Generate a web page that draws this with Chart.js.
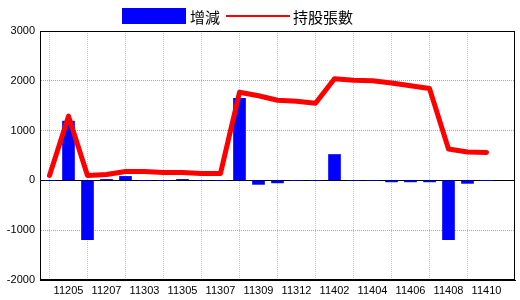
<!DOCTYPE html>
<html>
<head>
<meta charset="utf-8">
<script src="https://cdn.jsdelivr.net/npm/chart.js@4/dist/chart.umd.min.js"></script>
<style>
  html, body { margin: 0; padding: 0; background: #fff; }
  #wrap { width: 520px; height: 300px; }
</style>
</head>
<body>
<div id="wrap"><canvas id="c" width="520" height="300"></canvas></div>
<script>
// Tick labels shown on the x axis (every other category)
const tickLabels = ['11205','11207','11303','11305','11307','11309','11312','11402','11404','11406','11408','11410'];
// Category slots: labelled slots alternate with unlabelled ones; one trailing empty slot
const categories = [];
for (let i = 0; i < 24; i++) categories.push(i % 2 === 1 ? tickLabels[(i - 1) / 2] : '');
categories.push('');

// 增減 (bars)
const changes = [0, 1190, -1190, 20, 80, 0, 0, 20, 0, 0, 1650, -80, -50, 0, 0, 520, 0, 0, -30, -30, -30, -1190, -60, 0];
// 持股張數 (line)
const holdings = [100, 1290, 100, 120, 180, 180, 160, 160, 140, 140, 1770, 1700, 1610, 1590, 1550, 2040, 2010, 2000, 1955, 1900, 1845, 630, 570, 560];

const seriesNames = ['增減', '持股張數'];
const yTicks = { min: -2000, max: 3000, step: 1000 };

const tickFont = { family: 'Liberation Sans', size: 11 };

const framePlugin = {
  id: 'frame',
  beforeDatasetsDraw(chart) {
    const a = chart.chartArea, ctx = chart.ctx;
    ctx.save();
    ctx.strokeStyle = '#000';
    ctx.lineWidth = 1;
    ctx.strokeRect(Math.round(a.left) + 0.5, Math.round(a.top) + 0.5, Math.round(a.right - a.left) - 1, Math.round(a.bottom - a.top) - 1);
    ctx.restore();
  }
};

const legendPlugin = {
  id: 'customLegend',
  afterDraw(chart) {
    const ctx = chart.ctx;
    const ds = chart.data.datasets;
    ctx.save();
    ctx.font = '15px "Noto Sans CJK TC"';
    ctx.textBaseline = 'middle';
    ctx.textAlign = 'left';
    let x = 122;
    const cy = 16;
    ctx.fillStyle = ds[0].backgroundColor;
    ctx.fillRect(x, 8, 64, 16);
    x += 68;
    ctx.fillStyle = '#000';
    ctx.fillText(ds[0].label, x, cy + 1);
    x += ctx.measureText(ds[0].label).width + 6;
    ctx.strokeStyle = ds[1].borderColor;
    ctx.lineWidth = 2;
    ctx.beginPath();
    ctx.moveTo(x, cy);
    ctx.lineTo(x + 64, cy);
    ctx.stroke();
    x += 67;
    ctx.fillText(ds[1].label, x, cy + 1);
    ctx.restore();
  }
};

new Chart(document.getElementById('c'), {
  data: {
    labels: categories,
    datasets: [
      {
        type: 'bar',
        label: seriesNames[0],
        data: changes,
        backgroundColor: '#0000ff',
        borderWidth: 0,
        barThickness: 12,
        order: 1
      },
      {
        type: 'line',
        label: seriesNames[1],
        data: holdings,
        borderColor: '#ff0000',
        backgroundColor: '#ff0000',
        borderWidth: 5,
        borderJoinStyle: 'round',
        borderCapStyle: 'round',
        pointRadius: 0,
        tension: 0,
        fill: false,
        order: 0
      }
    ]
  },
  options: {
    responsive: false,
    animation: false,
    layout: { padding: { top: 31, right: 5, left: 0, bottom: 0 } },
    plugins: {
      legend: { display: false },
      tooltip: { enabled: false }
    },
    scales: {
      x: {
        type: 'category',
        offset: true,
        afterFit(scale) { scale.height = 20; },
        grid: {
          offset: false,
          drawTicks: false,
          color: (c) => (c.index % 2 === 0 && c.index < 24) ? '#b8cbd9' : 'rgba(0,0,0,0)',
          lineWidth: 1
        },
        border: { display: true, color: '#000', dash: [1, 1] },
        ticks: {
          autoSkip: false,
          maxRotation: 0,
          minRotation: 0,
          padding: 4,
          color: '#000',
          font: tickFont,
          callback: (v, i) => categories[i]
        }
      },
      y: {
        min: yTicks.min,
        max: yTicks.max,
        afterFit(scale) { scale.width = 40; },
        grid: {
          drawTicks: false,
          color: (c) => (c.tick && c.tick.value === 0) ? '#000' : '#a8a8a8',
          lineWidth: 1
        },
        border: {
          display: true,
          color: '#000',
          dash: (c) => (c.tick && c.tick.value === 0) ? [] : [1, 1]
        },
        ticks: {
          stepSize: yTicks.step,
          padding: 5,
          color: '#000',
          font: tickFont,
          callback: (v) => String(v)
        }
      }
    }
  },
  plugins: [framePlugin, legendPlugin]
});
</script>
</body>
</html>
